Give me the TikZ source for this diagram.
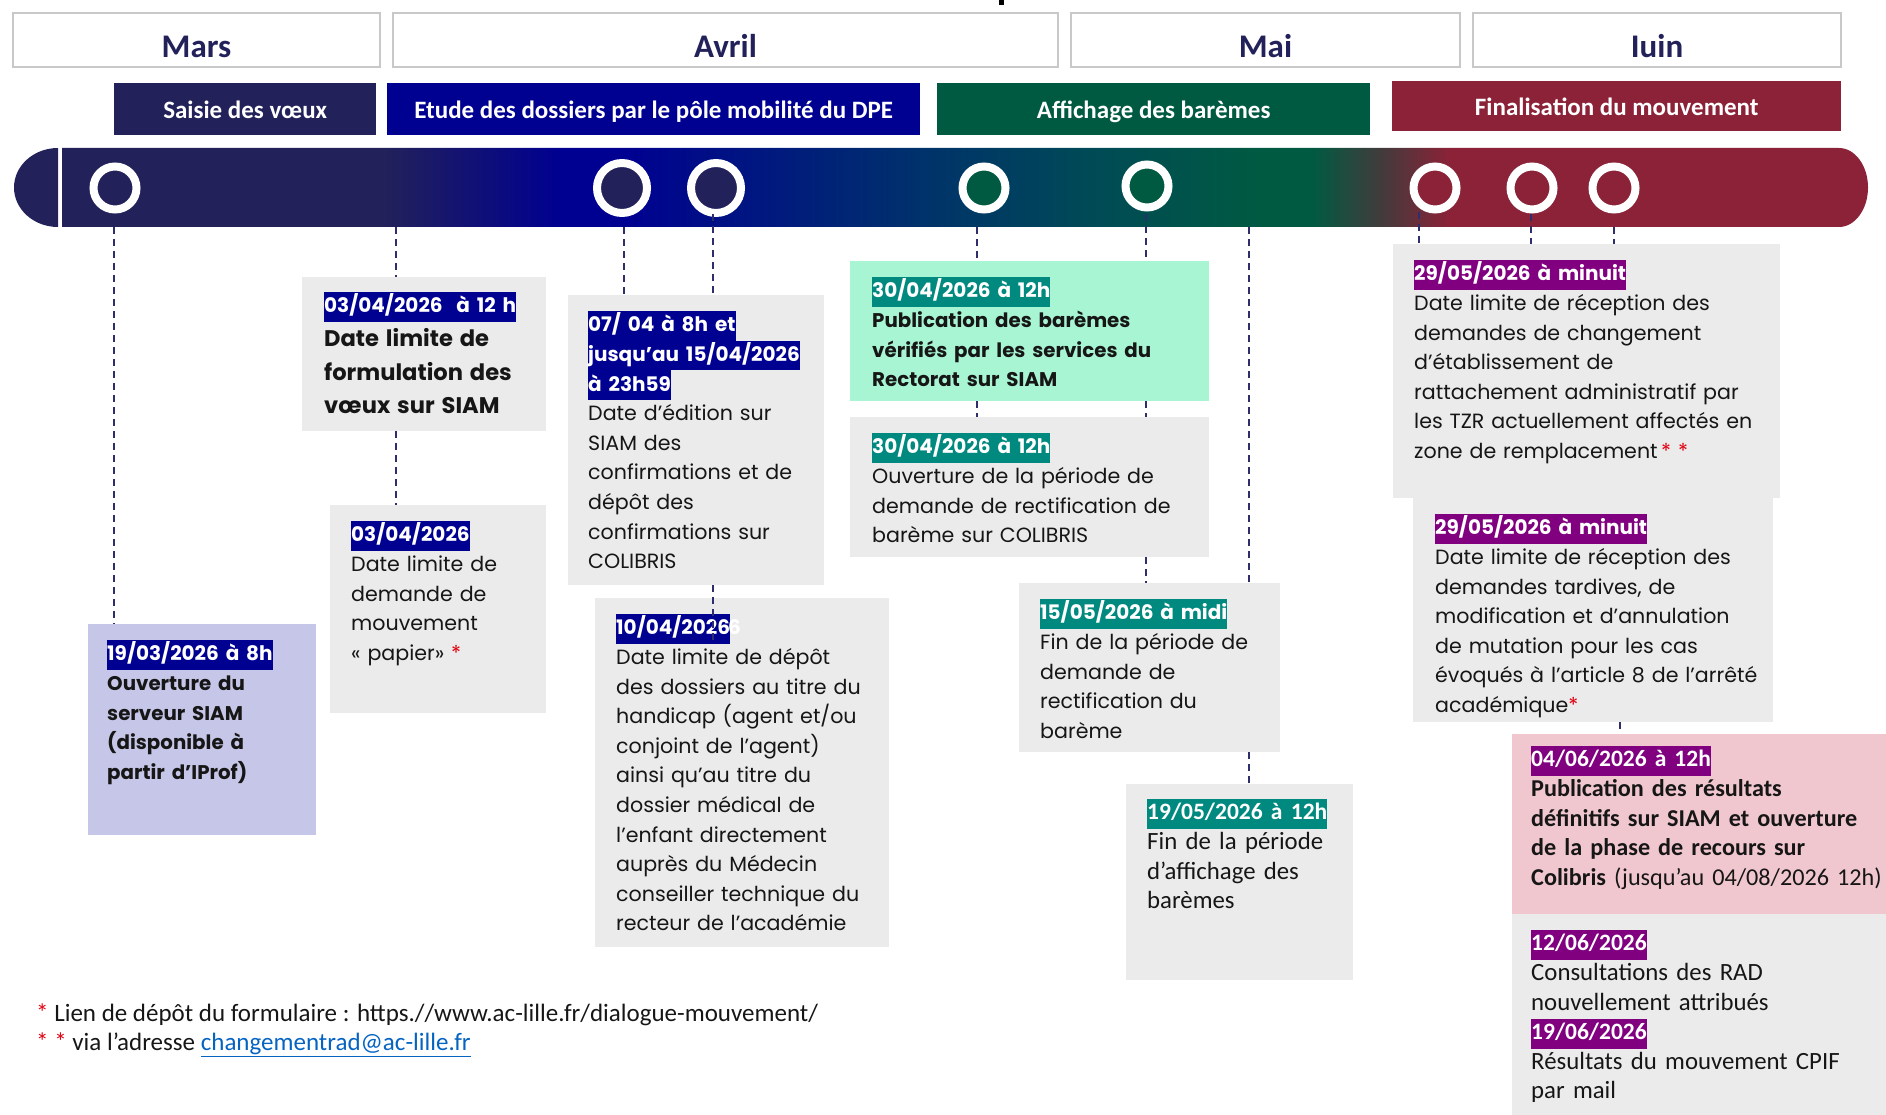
\documentclass[tikz,border=0pt]{standalone}
\usepackage{fontspec}
\setmainfont{Poppins}
\newfontfamily\calib{Carlito}
\usepackage{xcolor}
\usetikzlibrary{positioning, calc}

\definecolor{navyD}{HTML}{22215A}
\definecolor{bleuF}{HTML}{000091}
\definecolor{bleuT}{HTML}{00336A}
\definecolor{tealF}{HTML}{004B55}
\definecolor{vertF}{HTML}{005A41}
\definecolor{grisF}{HTML}{453A3C}
\definecolor{bordeaux}{HTML}{8B2238}
\definecolor{tealL}{HTML}{00897F}
\definecolor{violetL}{HTML}{800080}
\definecolor{grisBox}{HTML}{EBEBEB}
\definecolor{grisBord}{HTML}{C8C8C8}
\definecolor{lavande}{HTML}{C6C6E8}
\definecolor{menthe}{HTML}{A8F5D3}
\definecolor{rose}{HTML}{F1C7CF}
\definecolor{lien}{HTML}{0563C1}
\definecolor{tiret}{HTML}{2E2E6E}
\definecolor{rougeE}{HTML}{E1000F}
\definecolor{noirT}{HTML}{161616}

\newcommand{\fcorps}{\fontsize{20.6}{29.6}\selectfont}
\newcommand{\fgras}{\fontsize{19.8}{29.6}\selectfont\bfseries}
\newcommand{\fgros}{\fontsize{22.6}{33.6}\selectfont}
\newcommand{\fcal}{\calib\fontsize{24.8}{29.6}\selectfont}
\newcommand{\hl}[2]{{\setlength{\fboxsep}{0pt}\colorbox{#1}{\strut\textcolor{white}{\fontsize{20}{29.6}\selectfont\bfseries #2}}}}
\newcommand{\hlc}[2]{{\setlength{\fboxsep}{0pt}\colorbox{#1}{\strut\textcolor{white}{\fontsize{23.5}{29.6}\selectfont\bfseries #2}}}}
\newcommand{\etoile}{\textcolor{rougeE}{*}}

\pgfdeclarehorizontalshading{frise}{100bp}{color(0bp)=(navyD); color(33.9bp)=(navyD);
  color(38.8bp)=(bleuF); color(40.5bp)=(bleuF); color(49bp)=(bleuT); color(53.7bp)=(tealF);
  color(58.2bp)=(vertF); color(59.6bp)=(vertF); color(61.6bp)=(grisF);
  color(63.4bp)=(bordeaux); color(100bp)=(bordeaux)}

\tikzset{
  moisbox/.style={rectangle, draw=grisBord, line width=2pt, fill=white, anchor=north west,
                  inner sep=0pt, minimum height=54pt, text height=36pt, text depth=0pt,
                  font=\calib\fontsize{33}{33}\selectfont\bfseries, text=navyD},
  phase/.style={rectangle, anchor=north west, inner sep=0pt, minimum height=52pt,
                text height=22pt, text depth=4pt,
                text=white, font=\calib\fontsize{25}{25}\selectfont\bfseries},
  jalon/.style={circle, draw=white, line width=8pt, minimum size=43pt, inner sep=0pt},
  jalonA/.style={jalon, minimum size=50pt},
  boite/.style={rectangle, anchor=north west, inner sep=0pt, fill=grisBox},
  boxtext/.style={anchor=north west, inner sep=0pt, text width=420pt, align=left,
                  font=\fcorps, text=noirT},
  tirets/.style={draw=tiret, line width=2pt, dash pattern=on 7pt off 5pt},
}

\begin{document}
\begin{tikzpicture}[x=1pt, y=1pt]
  \useasboundingbox (0,0) rectangle (1886,-1115);

  %% ── Months ───────────────────────────────────────────────────────────────
  \fill[black] (999,0) rectangle (1004,-5);
  \node[moisbox, minimum width=367pt] (mMars)  at (12,-12)   {Mars};
  \node[moisbox, minimum width=665pt] (mAvril) at (392,-12)  {Avril};
  \node[moisbox, minimum width=389pt] (mMai)   at (1070,-12) {Mai};
  \node[moisbox, minimum width=368pt] (mIuin)  at (1472,-12) {Iuin};

  %% ── Phases ───────────────────────────────────────────────────────────────
  \node[phase, fill=navyD,    minimum width=262pt] (pSaisie) at (114,-83)  {Saisie des vœux};
  \node[phase, fill=bleuF,    minimum width=533pt] (pEtude)  at (387,-83)  {Etude des dossiers par le pôle mobilité du DPE};
  \node[phase, fill=vertF,    minimum width=433pt] (pAffich) at (937,-83)  {Affichage des barèmes};
  \node[phase, fill=bordeaux, minimum width=449pt, minimum height=50pt] (pFinal) at (1392,-81) {Finalisation du mouvement};

  %% ── Timeline bar ─────────────────────────────────────────────────────────
  \fill[navyD] (58,-148) arc[start angle=90, end angle=270, x radius=44pt, y radius=39.5pt] -- cycle;
  \shade[shading=frise] (62,-148) -- (1839,-148)
        arc[start angle=90, end angle=-90, x radius=29pt, y radius=39.5pt] -- (62,-227) -- cycle;

  %% ── Milestones ───────────────────────────────────────────────────────────
  \node[jalon,  fill=navyD]    (c1) at (115,-188)  {};
  \node[jalonA, fill=navyD]    (c2) at (622,-188)  {};
  \node[jalonA, fill=navyD]    (c3) at (716,-188)  {};
  \node[jalon,  fill=vertF]    (c4) at (984,-188)  {};
  \node[jalon,  fill=vertF]    (c5) at (1147,-186) {};
  \node[jalon,  fill=bordeaux] (c6) at (1435,-188) {};
  \node[jalon,  fill=bordeaux] (c7) at (1532,-188) {};
  \node[jalon,  fill=bordeaux] (c8) at (1614,-188) {};

  %% ── Boxes ────────────────────────────────────────────────────────────────
  \node[boite, fill=lavande, minimum width=228pt, minimum height=211pt] (b19)    at (88,-624)   {};
  \node[boite, minimum width=244pt, minimum height=154pt]                (b0304a) at (302,-277)  {};
  \node[boite, minimum width=216pt, minimum height=208pt]                (b0304b) at (330,-505)  {};
  \node[boite, minimum width=256pt, minimum height=290pt]                (b0704)  at (568,-295)  {};
  \node[boite, minimum width=294pt, minimum height=349pt]                (b1004)  at (595,-598)  {};
  \node[boite, fill=menthe, minimum width=359pt, minimum height=140pt]   (b3004a) at (850,-261)  {};
  \node[boite, minimum width=359pt, minimum height=140pt]                (b3004b) at (850,-417)  {};
  \node[boite, minimum width=261pt, minimum height=169pt]                (b1505)  at (1019,-583) {};
  \node[boite, minimum width=227pt, minimum height=196pt]                (b1905)  at (1126,-784) {};
  \node[boite, minimum width=387pt, minimum height=254pt]                (b2905a) at (1393,-244) {};
  \node[boite, minimum width=360pt, minimum height=224pt]                (b2905b) at (1413,-498) {};
  \node[boite, fill=rose, minimum width=374pt, minimum height=180pt]     (b0406)  at (1512,-734) {};
  \node[boite, minimum width=374pt, minimum height=201pt]                (b1206)  at (1512,-914) {};

  %% ── Box texts ────────────────────────────────────────────────────────────
  \node[boxtext, below right=16pt and 19pt of b19.north west] (t19)
    {\hl{bleuF}{19/03/2026 à 8h}\\ {\fgras Ouverture du\\ serveur SIAM\\ (disponible à\\ partir d’IProf)}};
  \node[boxtext, below right=15pt and 22pt of b0304a.north west] (t0304a)
    {\hl{bleuF}{03/04/2026\ \ à 12 h}\par{\fgros\bfseries Date limite de\\ formulation des\\ vœux sur SIAM\par}};
  \node[boxtext, below right=16pt and 21pt of b0304b.north west] (t0304b)
    {\hl{bleuF}{03/04/2026}\\ Date limite de\\ demande de\\ mouvement\\ « papier» \etoile};
  \node[boxtext, below right=16pt and 20pt of b0704.north west] (t0704)
    {\hl{bleuF}{07/ 04 à 8h et}\\ \hl{bleuF}{jusqu’au 15/04/2026}\\ \hl{bleuF}{à 23h59}\\
     Date d’édition sur\\ SIAM des\\ confirmations et de\\ dépôt des\\ confirmations sur\\ COLIBRIS};
  \node[boxtext, below right=16pt and 21pt of b1004.north west] (t1004)
    {\hl{bleuF}{10/04/2026}\kern-2pt\textcolor{white}{\fontsize{20}{29.6}\selectfont\bfseries 6}\\ Date limite de dépôt\\
     des dossiers au titre du\\ handicap (agent et/ou\\ conjoint de l’agent)\\ ainsi qu’au titre du\\
     dossier médical de\\ l’enfant directement\\ auprès du Médecin\\ conseiller technique du\\
     recteur de l’académie};
  \node[boxtext, below right=16pt and 22pt of b3004a.north west] (t3004a)
    {\hl{tealL}{30/04/2026 à 12h}\\ {\fgras Publication des barèmes\\ vérifiés par les services du\\ Rectorat sur SIAM}};
  \node[boxtext, below right=16pt and 22pt of b3004b.north west] (t3004b)
    {\hl{tealL}{30/04/2026 à 12h}\\ Ouverture de la période de\\ demande de rectification de\\ barème sur COLIBRIS};
  \node[boxtext, below right=16pt and 21pt of b1505.north west] (t1505)
    {\hl{tealL}{15/05/2026 à midi}\\ Fin de la période de\\ demande de\\ rectification du\\ barème};
  \node[boxtext, font=\fcal, below right=15pt and 21pt of b1905.north west] (t1905)
    {\hlc{tealL}{19/05/2026 à 12h}\\ Fin de la période\\ d’affichage des\\ barèmes};
  \node[boxtext, below right=16pt and 21pt of b2905a.north west] (t2905a)
    {\hl{violetL}{29/05/2026 à minuit}\\ Date limite de réception des\\ demandes de changement\\
     d’établissement de\\ rattachement administratif par\\ les TZR actuellement affectés en\\
     zone de remplacement\,\etoile~\etoile};
  \begin{scope}
    \clip (b2905b.north west) rectangle (b2905b.south east);
    \node[boxtext, below right=16pt and 22pt of b2905b.north west] (t2905b)
      {\hl{violetL}{29/05/2026 à minuit}\\ Date limite de réception des\\ demandes tardives, de\\
       modification et d’annulation\\ de mutation pour les cas\\ évoqués à l’article 8 de l’arrêté\\
       académique\etoile};
  \end{scope}
  \node[boxtext, font=\calib\fontsize{24.2}{29.6}\selectfont, below right=12pt and 19pt of b0406.north west] (t0406)
    {\hlc{violetL}{04/06/2026 à 12h}\\ {\bfseries Publication des résultats\\ définitifs sur SIAM et ouverture\\
     de la phase de recours sur\\ Colibris} (jusqu’au 04/08/2026 12h)};
  \node[boxtext, font=\fcal, below right=16pt and 19pt of b1206.north west] (t1206)
    {\hlc{violetL}{12/06/2026}\\ Consultations des RAD\\ nouvellement attribués\\
     \hlc{violetL}{19/06/2026}\\ Résultats du mouvement CPIF\\ par mail};

  %% ── Dashed connectors ────────────────────────────────────────────────────
  \coordinate (k1)  at (114,-227);
  \coordinate (k2)  at (396,-227);
  \coordinate (k3)  at (624,-227);
  \coordinate (k4)  at (713,-214);
  \coordinate (k5)  at (977,-227);
  \coordinate (k6)  at (1146,-214);
  \coordinate (k7)  at (1249,-227);
  \coordinate (k8)  at (1419,-212);
  \coordinate (k9)  at (1531,-214);
  \coordinate (k10) at (1614,-227);
  \coordinate (k11) at (1620,-722);
  \draw[tirets] (k1) -- (k1 |- b19.north);
  \draw[tirets] (k2) -- (k2 |- b0304a.north);
  \draw[tirets] (b0304a.south -| k2) -- (b0304b.north -| k2);
  \draw[tirets] (k3) -- (k3 |- b0704.north);
  \draw[tirets] (k4) -- (k4 |- b0704.north);
  \draw[tirets] (b0704.south -| k4) -- ([yshift=-42pt]b1004.north -| k4);
  \draw[tirets] (k5) -- (k5 |- b3004a.north);
  \draw[tirets] (b3004a.south -| k5) -- (b3004b.north -| k5);
  \draw[tirets] (k6) -- (k6 |- b3004a.north);
  \draw[tirets] (b3004a.south -| k6) -- (b3004b.north -| k6);
  \draw[tirets] (b3004b.south -| k6) -- (b1505.north -| k6);
  \draw[tirets] (k7) -- (k7 |- b1505.north);
  \draw[tirets] (b1505.south -| k7) -- (b1905.north -| k7);
  \draw[tirets] (k8) -- (k8 |- b2905a.north);
  \draw[tirets] (k9) -- (k9 |- b2905a.north);
  \draw[tirets] (k10) -- (k10 |- b2905a.north);
  \draw[tirets] (k11) -- (k11 |- b0406.north);

  %% ── Footnotes ────────────────────────────────────────────────────────────
  \node[anchor=north west, inner sep=0pt, align=left, text=noirT,
        font=\calib\fontsize{25}{29}\selectfont] (notes) at (36,-1004)
    {\etoile{} Lien de dépôt du formulaire : https.//www.ac-lille.fr/dialogue-mouvement/\\
     \etoile{} \etoile{} via l’adresse \textcolor{lien}{\underline{changementrad@ac-lille.fr}}};

\end{tikzpicture}
\end{document}
